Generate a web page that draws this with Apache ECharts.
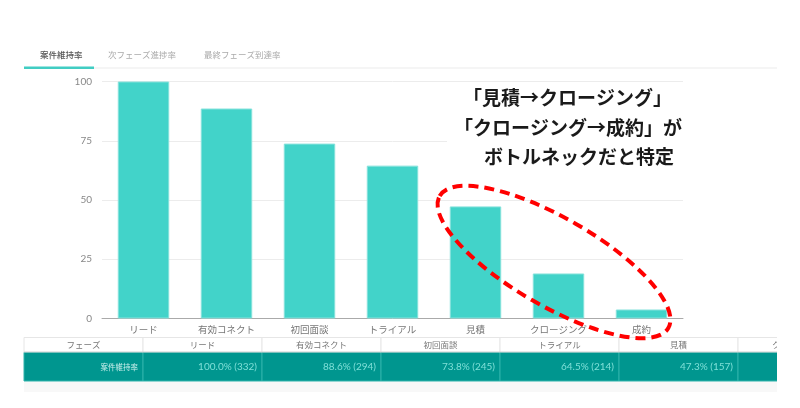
<!DOCTYPE html>
<html><head><meta charset="utf-8">
<script src="https://cdn.jsdelivr.net/npm/echarts@6/dist/echarts.min.js"></script>
<style>html,body{margin:0;padding:0;background:#fff}#c{width:800px;height:408px}</style>
</head><body><div id="c"></div>
<script>
const phases = ['リード','有効コネクト','初回面談','トライアル','見積','クロージング','成約'];
const rates = [100, 88.6, 73.8, 64.5, 47.3, 19.0, 3.8];
const counts = [332, 294, 245, 214, 157, 63, 13];
const yTicks = [0, 25, 50, 75, 100];
const tabs = ['案件維持率','次フェーズ進捗率','最終フェーズ到達率'];
const rowLabel = '案件維持率';
const headerLabel = 'フェーズ';
const noteLines = ['「見積→クロージング」','「クロージング→成約」が','ボトルネックだと特定'];

const FONT = '"Noto Sans CJK JP", "Noto Sans", sans-serif';
const chart = echarts.init(document.getElementById('c'));

const g = [];
// tabs
const tabX = [40, 108, 204];
tabs.forEach((t, i) => {
  g.push({type:'text', x: tabX[i], y: 55, style:{text:t, font: (i===0?'500 ':'')+'8.5px '+FONT, fill: i===0?'#555':'#aaa', textVerticalAlign:'middle'}});
});
g.push({type:'rect', shape:{x:24,y:67.5,width:753,height:1}, style:{fill:'#ececec'}});
g.push({type:'rect', shape:{x:24,y:66.5,width:70,height:2.5}, style:{fill:'#41cdc3'}});

// table
const tX = 24, colW = 119, hY = 337.5, hH = 15, dH = 28.5;
g.push({type:'rect', shape:{x:tX,y:hY+hH+dH,width:753,height:11}, style:{fill:'#f8f8f8'}});
const cols = [headerLabel].concat(phases);
cols.forEach((c, i) => {
  const x = tX + i*colW;
  g.push({type:'rect', shape:{x:x,y:hY,width:colW,height:hH}, style:{fill:'#fff', stroke:'#e6e6e6', lineWidth:1}});
  g.push({type:'text', x: x+colW/2, y: hY+hH/2, style:{text:c, font:'8.5px '+FONT, fill:'#777', align:'center', verticalAlign:'middle'}});
  g.push({type:'rect', shape:{x:x,y:hY+hH,width:colW,height:dH}, style:{fill:'#00968f', stroke:'#2fb3ab', lineWidth:1}});
  const txt = i===0 ? rowLabel : rates[i-1].toFixed(1)+'% ('+counts[i-1]+')';
  g.push({type:'text', x: x+colW-5, y: hY+hH+dH/2, style:{text:txt, font:(i===0?'7.5px ':'10px ')+(i===0?FONT:'Lato, '+FONT), fill: i===0?'#c9efec':'#7fe0d8', align:'right', verticalAlign:'middle'}});
});
g.push({type:'rect', shape:{x:tX,y:hY+hH-1,width:753,height:1}, style:{fill:'#d0d0d0'}});
g.push({type:'rect', shape:{x:777,y:hY-1,width:30,height:60}, style:{fill:'#fff'}});

// annotation white box + text
g.push({type:'rect', z:1, shape:{x:447,y:86,width:250,height:100}, style:{fill:'#fff'}});
const noteX = [463, 454, 484], noteY = [98, 128, 157];
noteLines.forEach((t, i) => {
  g.push({type:'text', z:5, x: noteX[i], y: noteY[i], style:{text:t, font:'bold 19px '+FONT, fill:'#1a1a1a', verticalAlign:'middle'}});
});
// dashed ellipse
g.push({type:'ellipse', z:50, x:554, y:262, rotation:-30*Math.PI/180,
  shape:{cx:0, cy:0, rx:132, ry:44},
  style:{fill:null, stroke:'#ff0000', lineWidth:4, lineDash:[10,6]}});

chart.setOption({
  animation:false,
  grid:{left:102, right:117, top:81.5, bottom:89.5},
  xAxis:{type:'category', data:phases,
    axisLine:{lineStyle:{color:'#aaa'}}, axisTick:{show:false},
    axisLabel:{color:'#777', fontSize:9.5, fontFamily:FONT, margin:6}},
  yAxis:{type:'value', min:yTicks[0], max:yTicks[yTicks.length-1], interval:25,
    axisLine:{show:false}, axisTick:{show:false},
    splitLine:{lineStyle:{color:'#ececec'}},
    axisLabel:{color:'#888', fontSize:10, fontFamily:'Lato, '+FONT, margin:10}},
  series:[{type:'bar', data:rates, barWidth:'62%',
    itemStyle:{color:'#42d3c9', borderColor:'#86e2dc', borderWidth:1}}],
  graphic:g
});
</script></body></html>
